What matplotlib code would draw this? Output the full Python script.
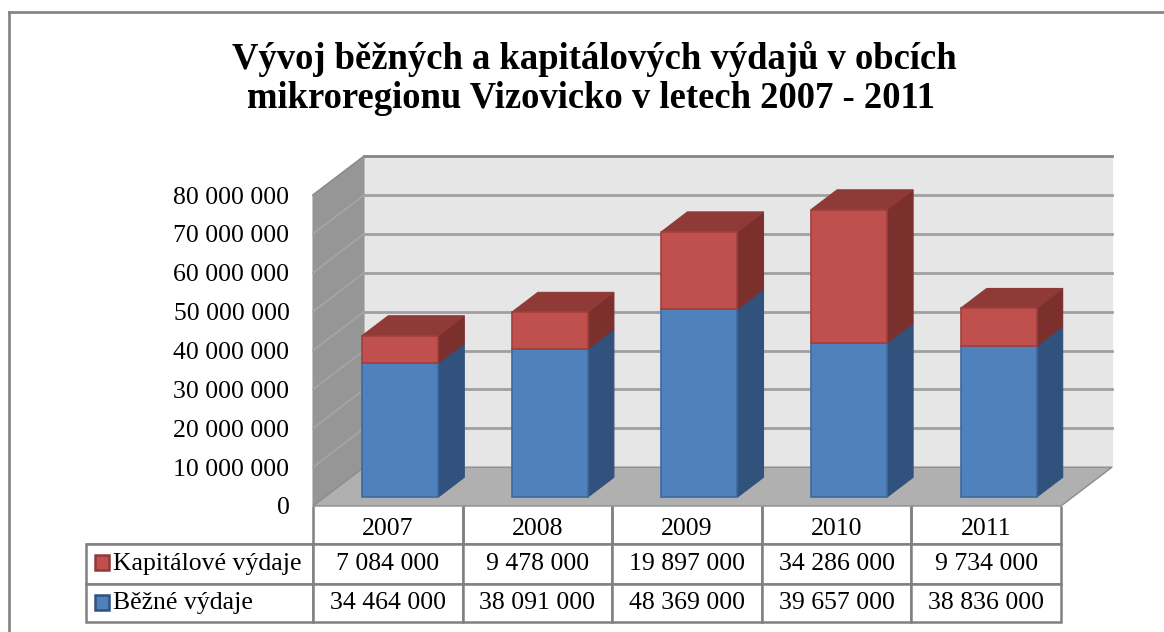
import matplotlib
matplotlib.use("Agg")
import matplotlib.pyplot as plt
from matplotlib.patches import Polygon, Rectangle
from matplotlib.lines import Line2D
from matplotlib.table import Table
import numpy as np

plt.rcParams['font.family'] = ['Liberation Serif', 'DejaVu Serif']

years = ["2007", "2008", "2009", "2010", "2011"]
kapitalove = [7084000, 9478000, 19897000, 34286000, 9734000]
bezne = [34464000, 38091000, 48369000, 39657000, 38836000]
series_names = ["Kapitálové výdaje", "Běžné výdaje"]
ticks = [0, 10000000, 20000000, 30000000, 40000000, 50000000, 60000000, 70000000, 80000000]
title = "Vývoj běžných a kapitálových výdajů v obcích\nmikroregionu Vizovicko v letech 2007 - 2011"

W, H = 1164, 632
fig = plt.figure(figsize=(W / 100, H / 100), dpi=100, facecolor="white")

def fx(p): return p / W
def fy(p): return 1 - p / H

L, R, B, T = 313, 1061, 506, 195
ax = fig.add_axes([fx(L), fy(B), (R - L) / W, (B - T) / H])
ax.set_xlim(0, 5)
ax.set_ylim(0, 80000000)
for s in ax.spines.values():
    s.set_visible(False)
ax.patch.set_visible(False)
ax.set_xticks([])
ax.set_yticks(ticks)
ax.set_yticklabels([f"{t:,}".replace(",", " ") for t in ticks], fontsize=18.5)
ax.tick_params(axis="y", length=0, pad=17)

# depth of the 3D box, in data units per full depth
DX = 51 / ((R - L) / 5)
DY = 38.8 / (B - T) * 80000000

def P(x, y, d):
    return (x + d * DX, y + d * DY)

def poly(pts, fc, ec=None, lw=0.8, z=1):
    ax.add_patch(Polygon(pts, closed=True, facecolor=fc, edgecolor=ec if ec else fc,
                         linewidth=lw, zorder=z, clip_on=False, joinstyle="miter"))

# walls and floor
poly([P(0, 0, 1), P(5, 0, 1), P(5, 80000000, 1), P(0, 80000000, 1)], "#E6E6E6", z=1)
poly([P(0, 0, 0), P(0, 0, 1), P(0, 80000000, 1), P(0, 80000000, 0)], "#969696", z=1)
poly([P(0, 0, 0), P(5, 0, 0), P(5, 0, 1), P(0, 0, 1)], "#B0B0B0", ec="#8C8C8C", lw=1, z=1.5)

for t in ticks[1:]:
    top = t == ticks[-1]
    c = "#848484" if top else "#A0A0A0"
    ax.add_line(Line2D(*zip(P(0, t, 1), P(5, t, 1)), color=c, lw=2, zorder=2, clip_on=False))
    ax.add_line(Line2D(*zip(P(0, t, 0), P(0, t, 1)), color="#A6A6A6" if not top else "#8C8C8C",
                       lw=1.2, zorder=2, clip_on=False))

# 3D stacked bars
BW = 0.508
D0, D1 = 0.23, 0.74
X_SHIFT = 0.505 - BW / 2

def box(x, y0, y1, front, edge, side, z):
    x0, x1 = x + X_SHIFT, x + X_SHIFT + BW
    poly([P(x1, y0, D0), P(x1, y0, D1), P(x1, y1, D1), P(x1, y1, D0)], side, z=z)
    poly([P(x0, y0, D0), P(x1, y0, D0), P(x1, y1, D0), P(x0, y1, D0)], front, ec=edge, lw=1.2, z=z + 0.2)
    return x0, x1

for i, (b, k) in enumerate(zip(bezne, kapitalove)):
    z = 3 + i
    box(i, 0, b, "#4F81BD", "#3E6AA0", "#31527C", z)
    x0, x1 = box(i, b, b + k, "#C0504D", "#A03F3C", "#7B302E", z + 0.3)
    top = b + k
    poly([P(x0, top, D0), P(x1, top, D0), P(x1, top, D1), P(x0, top, D1)], "#903A38", z=z + 0.4)

# data table
frame_c = "#808080"
table = Table(ax, bbox=[(86 - L) / (R - L), (B - 622) / (B - T), (R - 86) / (R - L), (622 - 506) / (B - T)])
heights = [38, 40, 38]
rows = [[""] + [""] * len(years),
        [series_names[0]] + [f"{v:,}".replace(",", " ") for v in kapitalove],
        [series_names[1]] + [f"{v:,}".replace(",", " ") for v in bezne]]
for r, row in enumerate(rows):
    for c, txt in enumerate(row):
        cell = table.add_cell(r, c, width=227 if c == 0 else 149.6, height=heights[r], text=txt,
                              loc="left" if c == 0 else "center", edgecolor=frame_c, facecolor="white")
        cell.set_linewidth(1.8)
        cell.set_text_props(color="black")
        if c == 0:
            cell.PAD = 0.119
        if r == 0:
            cell.visible_edges = "B" if c == 0 else "LRB"
table.auto_set_font_size(False)
table.set_fontsize(18.5)
ax.add_table(table)

# year labels sit low in the table's first row
label_y = -(529 - B) / (B - T) * 80000000
for i, year in enumerate(years):
    ax.text(i + 0.5, label_y, year, ha="center", va="center", fontsize=18.5, clip_on=False, zorder=20)

# legend keys in the table
for y, fc, ec in [(562.5, "#C0504D", "#8E3A38"), (602.5, "#4F81BD", "#31527C")]:
    fig.add_artist(Rectangle((fx(95), fy(y + 7.5)), 14 / W, 15 / H, transform=fig.transFigure,
                             facecolor=fc, edgecolor=ec, linewidth=1.8))

# title
line1, line2 = title.split("\n")
fig.text(fx(594.5), fy(59), line1, ha="center", va="center", fontsize=26.4, fontweight="bold")
fig.text(fx(591), fy(99), line2, ha="center", va="center", fontsize=26.4, fontweight="bold")

# outer frame, running off the right and bottom of the picture
fig.add_artist(Line2D([fx(8.5), fx(8.5)], [fy(12), 0], color="#868686", lw=2))
fig.add_artist(Line2D([fx(8.5), 1], [fy(12), fy(12)], color="#868686", lw=2))

fig.savefig("out.png", dpi=100)
